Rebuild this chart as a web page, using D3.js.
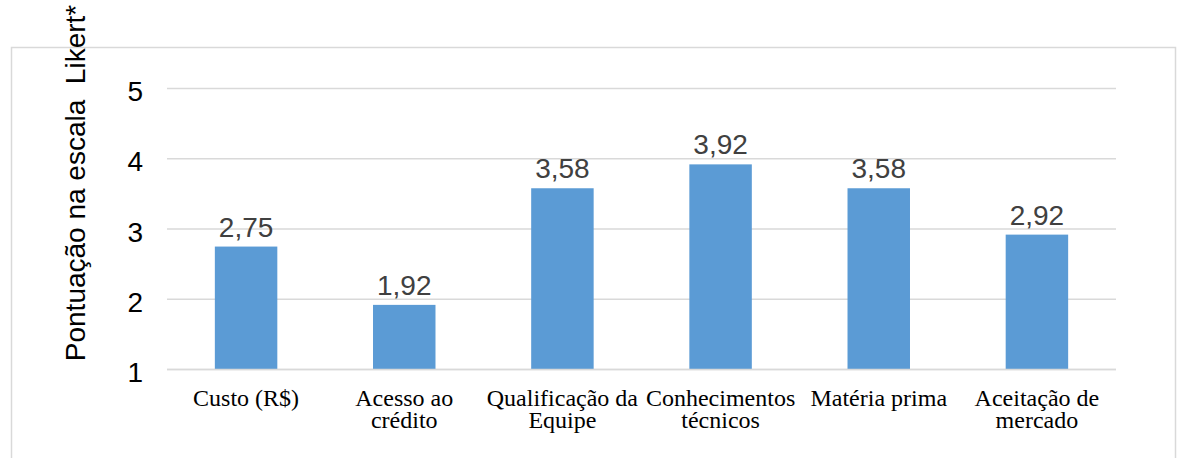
<!DOCTYPE html>
<html><head><meta charset="utf-8">
<script src="https://cdn.jsdelivr.net/npm/d3@7"></script>
<style>body{margin:0;background:#fff}svg{display:block}</style>
</head><body>
<svg id="c" width="1181" height="458"></svg>
<script>
const categories = [["Custo (R$)"],["Acesso ao","crédito"],["Qualificação da","Equipe"],["Conhecimentos","técnicos"],["Matéria prima"],["Aceitação de","mercado"]];
const values = [2.75, 1.92, 3.58, 3.92, 3.58, 2.92];
const valueLabels = ["2,75","1,92","3,58","3,92","3,58","2,92"];
const yTicks = [1,2,3,4,5];
const yTitle = "Pontuação na escala  Likert*";

const svg = d3.select("#c");
svg.append("rect").attr("x",11.5).attr("y",47.5).attr("width",1164).attr("height",420)
  .attr("fill","none").attr("stroke","#d9d9d9").attr("stroke-width",1.5);

const x = d3.scaleBand().domain(d3.range(categories.length)).range([167,1116]).padding(0);
const y = d3.scaleLinear().domain([1,5]).range([369.5,88.5]);
const bw = x.bandwidth()*0.395;

svg.append("g").selectAll("line").data(yTicks).join("line")
  .attr("x1",167).attr("x2",1116).attr("y1",d=>y(d)).attr("y2",d=>y(d))
  .attr("stroke","#d9d9d9").attr("stroke-width",1.5);

svg.append("g").selectAll("rect").data(values).join("rect")
  .attr("x",(d,i)=>x(i)+x.bandwidth()/2-bw/2).attr("width",bw)
  .attr("y",d=>y(d)).attr("height",d=>y(1)-y(d)).attr("fill","#5b9bd5");
svg.append("line").attr("x1",167).attr("x2",1116).attr("y1",y(1)).attr("y2",y(1))
  .attr("stroke","#d9d9d9").attr("stroke-width",1.5);

svg.append("g").selectAll("text").data(values).join("text")
  .attr("x",(d,i)=>x(i)+x.bandwidth()/2).attr("y",d=>y(d)-10)
  .attr("text-anchor","middle").attr("font-family","Liberation Sans, Arial, sans-serif")
  .attr("font-size",28).attr("fill","#404040").text((d,i)=>valueLabels[i]);

svg.append("g").selectAll("text").data(yTicks).join("text")
  .attr("x",143).attr("y",d=>y(d)+12.5).attr("text-anchor","end")
  .attr("font-family","Liberation Sans, Arial, sans-serif").attr("font-size",28)
  .attr("fill","#000").text(d=>d);

const cl = svg.append("g").selectAll("text").data(categories).join("text")
  .attr("text-anchor","middle").attr("font-family","Liberation Serif, Times New Roman, serif")
  .attr("font-size",24).attr("fill","#000");
cl.each(function(d,i){
  const t=d3.select(this);
  d.forEach((s,j)=>t.append("tspan").attr("x",x(i)+x.bandwidth()/2).attr("y",406+j*22).text(s));
});

svg.append("text").attr("transform","translate(85,183) rotate(-90)")
  .attr("text-anchor","middle").attr("font-family","Liberation Sans, Arial, sans-serif")
  .attr("font-size",28).attr("fill","#000").style("white-space","pre").text(yTitle);
</script>
</body></html>
